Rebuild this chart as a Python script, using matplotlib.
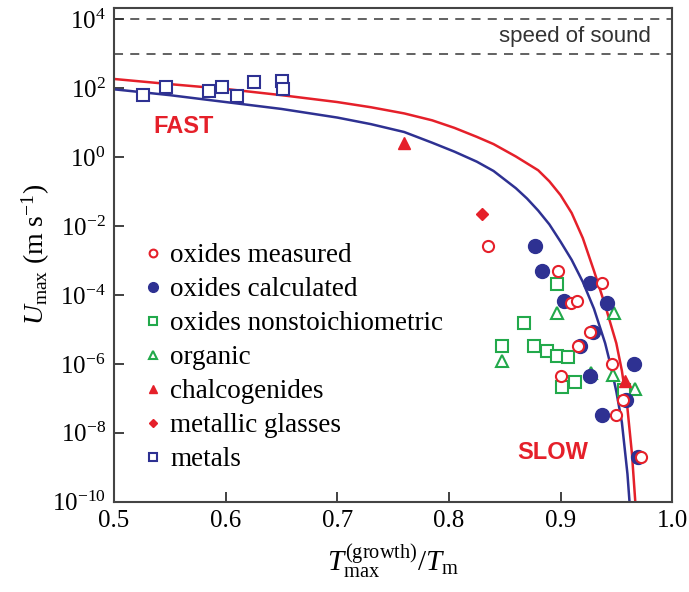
import numpy as np
import matplotlib
matplotlib.use('Agg')
import matplotlib.pyplot as plt
from matplotlib.ticker import LogFormatterMathtext, FixedLocator, NullLocator

plt.rcParams['font.family'] = ['Liberation Serif', 'DejaVu Serif']
plt.rcParams['mathtext.fontset'] = 'custom'
plt.rcParams['mathtext.rm'] = 'Liberation Serif'
plt.rcParams['mathtext.it'] = 'Liberation Serif:italic'

RED = '#e5202a'
BLUE = '#2e3192'
GREEN = '#22a94b'

# fitted curves (x, log10 U)
red_x = [0.500, 0.550, 0.600, 0.650, 0.700, 0.730, 0.760, 0.785, 0.805, 0.825, 0.840,
         0.860, 0.880, 0.890, 0.900, 0.910, 0.920, 0.930, 0.940, 0.950, 0.955,
         0.960, 0.964, 0.967, 0.968]
red_logu = [2.27, 2.12, 1.98, 1.80, 1.60, 1.45, 1.27, 1.07, 0.85, 0.59, 0.38,
            0.02, -0.38, -0.70, -1.10, -1.62, -2.35, -3.30, -4.30, -5.40, -6.20,
            -7.30, -8.60, -10.0, -10.6]
blue_x = [0.500, 0.550, 0.600, 0.650, 0.700, 0.730, 0.760, 0.785, 0.805, 0.825, 0.840,
          0.860, 0.870, 0.880, 0.890, 0.900, 0.910, 0.920, 0.930, 0.940, 0.945,
          0.950, 0.955, 0.960, 0.9625, 0.963]
blue_logu = [1.97, 1.80, 1.60, 1.40, 1.15, 0.96, 0.73, 0.42, 0.16, -0.13, -0.40,
             -0.90, -1.20, -1.55, -1.95, -2.45, -2.98, -3.62, -4.40, -5.40, -6.05,
             -6.80, -7.70, -9.20, -10.3, -10.6]

# oxides measured
om_x = [0.835, 0.898, 0.9376, 0.909, 0.9146, 0.9265, 0.916, 0.900, 0.946, 0.9558, 0.950, 0.972]
om_u = [2.6e-3, 5.0e-4, 2.2e-4, 6.0e-5, 6.8e-5, 8.3e-6, 3.2e-6, 4.6e-7, 9.8e-7, 8.9e-8, 3.3e-8, 2.0e-9]
# oxides calculated
oc_x = [0.877, 0.883, 0.9265, 0.9035, 0.9415, 0.9295, 0.9176, 0.9265, 0.9659, 0.9585, 0.937, 0.9698]
oc_u = [2.6e-3, 5.0e-4, 2.2e-4, 6.8e-5, 5.8e-5, 8.3e-6, 3.2e-6, 4.5e-7, 9.8e-7, 8.9e-8, 3.3e-8, 2.0e-9]
# oxides nonstoichiometric
on_x = [0.8967, 0.8677, 0.8474, 0.8763, 0.8877, 0.8972, 0.9071, 0.9011, 0.913, 0.957]
on_u = [2.1e-4, 1.5e-5, 3.3e-6, 3.3e-6, 2.4e-6, 1.7e-6, 1.55e-6, 2.2e-7, 3.0e-7, 1.7e-7]
# organic
org_x = [0.8967, 0.948, 0.8474, 0.9474, 0.9668, 0.927]
org_u = [3.1e-5, 3.1e-5, 1.2e-6, 4.8e-7, 1.9e-7, 5.6e-7]
# chalcogenides
ch_x = [0.7599, 0.9579]
ch_u = [2.6, 3.2e-7]
# metallic glasses
mg_x = [0.8295]
mg_u = [2.2e-2]
# metals
me_x = [0.5257, 0.5466, 0.5854, 0.5965, 0.6105, 0.6254, 0.6503, 0.6517]
me_u = [65, 107, 85, 112, 58, 151, 166, 93]

sound_levels = [1e3, 1e4]

fig = plt.figure(figsize=(6.89, 5.92), dpi=100)
ax = fig.add_axes([0.1655, 0.1525, 0.81, 0.834])

for lv in sound_levels:
    ax.axhline(lv, color='#555555', lw=1.3, dashes=(5, 4), zorder=1)
ax.text(0.981, 10**3.5, 'speed of sound', family='Liberation Sans', fontsize=16,
        color='#333333', ha='right', va='center')

ax.plot(red_x, 10.0**np.array(red_logu), color=RED, lw=1.8, zorder=2)
ax.plot(blue_x, 10.0**np.array(blue_logu), color=BLUE, lw=1.8, zorder=2)

ax.plot(org_x, org_u, '^', ms=8, mfc='white', mec=GREEN, mew=1.5, ls='none', zorder=3, label='organic')
ax.plot(on_x, on_u, 's', ms=8, mfc='white', mec=GREEN, mew=1.5, ls='none', zorder=3, label='oxides nonstoichiometric')
ax.plot(oc_x, oc_u, 'o', ms=10, color=BLUE, ls='none', zorder=4, label='oxides calculated')
ax.plot(om_x, om_u, 'o', ms=8, mfc='white', mec=RED, mew=1.5, ls='none', zorder=5, label='oxides measured')
ax.plot(ch_x, ch_u, '^', ms=9, color=RED, ls='none', zorder=5, label='chalcogenides')
ax.plot(mg_x, mg_u, 'D', ms=6.5, color=RED, ls='none', zorder=5, label='metallic glasses')
ax.plot(me_x, me_u, 's', ms=9, mfc='white', mec=BLUE, mew=1.5, ls='none', zorder=5, label='metals')

ax.text(0.5623, 10**0.89, 'FAST', family='Liberation Sans', weight='bold', fontsize=17,
        color=RED, ha='center', va='center')
ax.text(0.8929, 10**-8.57, 'SLOW', family='Liberation Sans', weight='bold', fontsize=17,
        color=RED, ha='center', va='center')

ax.set_yscale('log')
ax.set_xlim(0.5, 1.0)
ax.set_ylim(1e-10, 10**4.33)
ax.xaxis.set_major_locator(FixedLocator([0.5, 0.6, 0.7, 0.8, 0.9, 1.0]))
ax.set_xticklabels(['0.5', '0.6', '0.7', '0.8', '0.9', '1.0'])
ax.yaxis.set_major_locator(FixedLocator([1e-10, 1e-8, 1e-6, 1e-4, 1e-2, 1e0, 1e2, 1e4]))
ax.yaxis.set_minor_locator(NullLocator())
ax.yaxis.set_major_formatter(LogFormatterMathtext())
ax.tick_params(direction='in', length=7, width=1.3, labelsize=18, color='#333333', pad=6)

for sp in ax.spines.values():
    sp.set_color('#444444')
    sp.set_linewidth(1.5)

ax.set_xlabel(r'$T_{\rm max}^{\rm (growth)}/T_{\rm m}$', fontsize=21, labelpad=8)
ax.set_ylabel(r'$U_{\rm max}$ (m s$^{-1}$)', fontsize=20, labelpad=0)

handles, labels = ax.get_legend_handles_labels()
order = ['oxides measured', 'oxides calculated', 'oxides nonstoichiometric', 'organic',
         'chalcogenides', 'metallic glasses', 'metals']
hs = [handles[labels.index(n)] for n in order]
ax.legend(hs, order, loc='upper left', bbox_to_anchor=(0.035, 0.545), frameon=False,
          fontsize=19.5, markerscale=0.7, handlelength=0.6, handletextpad=0.35,
          labelspacing=0.33, borderaxespad=0)

fig.savefig('out.png', dpi=100)
